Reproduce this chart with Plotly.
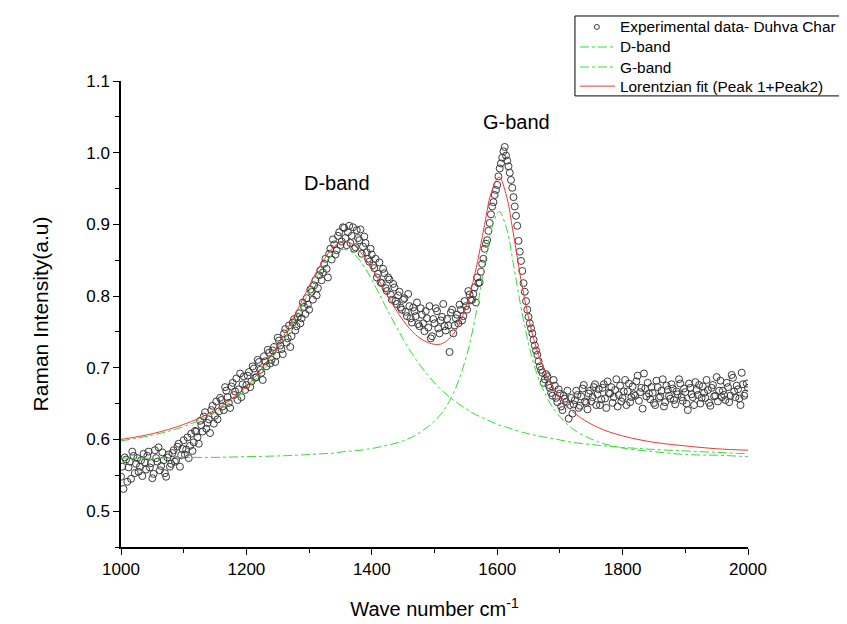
import plotly.graph_objects as go

# Experimental Raman spectrum, two interleaved passes
wavenumber_a = list(range(1000, 2001, 4))
intensity_a = [
    0.548, 0.531, 0.572, 0.561, 0.545, 0.577, 0.566, 0.555, 0.571, 0.580,
    0.558, 0.583, 0.567, 0.552, 0.574, 0.589, 0.563, 0.571, 0.548, 0.579,
    0.566, 0.585, 0.571, 0.594, 0.578, 0.599, 0.586, 0.574, 0.608, 0.596,
    0.611, 0.594, 0.620, 0.632, 0.615, 0.628, 0.641, 0.622, 0.653, 0.639,
    0.655, 0.641, 0.668, 0.651, 0.674, 0.662, 0.685, 0.670, 0.659, 0.688,
    0.676, 0.694, 0.681, 0.699, 0.687, 0.708, 0.693, 0.716, 0.702, 0.721,
    0.711, 0.729, 0.717, 0.738, 0.726, 0.748, 0.735, 0.759, 0.744, 0.768,
    0.758, 0.776, 0.769, 0.785, 0.797, 0.781, 0.806, 0.815, 0.801, 0.829,
    0.822, 0.845, 0.838, 0.859, 0.851, 0.872, 0.864, 0.889, 0.876, 0.895,
    0.871, 0.898, 0.884, 0.866, 0.892, 0.878, 0.859, 0.883, 0.861, 0.848,
    0.858, 0.839, 0.826, 0.847, 0.818, 0.832, 0.807, 0.823, 0.795, 0.812,
    0.789, 0.806, 0.781, 0.797, 0.772, 0.786, 0.763, 0.779, 0.791, 0.758,
    0.774, 0.751, 0.769, 0.786, 0.744, 0.762, 0.779, 0.748, 0.771, 0.758,
    0.768, 0.722, 0.781, 0.759, 0.774, 0.788, 0.766, 0.793, 0.781, 0.802,
    0.795, 0.812, 0.826, 0.819, 0.845, 0.866, 0.878, 0.902, 0.925, 0.941,
    0.955, 0.978, 0.993, 1.008, 0.989, 0.972, 0.951, 0.925, 0.898, 0.862,
    0.835, 0.806, 0.781, 0.762, 0.748, 0.731, 0.718, 0.702, 0.693, 0.684,
    0.688, 0.672, 0.661, 0.675, 0.652, 0.664, 0.641, 0.657, 0.668, 0.648,
    0.636, 0.655, 0.662, 0.647, 0.671, 0.653, 0.642, 0.668, 0.659, 0.677,
    0.663, 0.648, 0.672, 0.657, 0.681, 0.664, 0.651, 0.669, 0.646, 0.675,
    0.658, 0.683, 0.667, 0.652, 0.674, 0.661, 0.689, 0.666, 0.643, 0.671,
    0.679, 0.656, 0.665, 0.648, 0.673, 0.660, 0.684, 0.652, 0.669, 0.657,
    0.671, 0.649, 0.663, 0.678, 0.654, 0.666, 0.641, 0.672, 0.659, 0.680,
    0.662, 0.650, 0.674, 0.658, 0.669, 0.647, 0.676, 0.661, 0.653, 0.682,
    0.668, 0.655, 0.673, 0.661, 0.686, 0.659, 0.670, 0.648, 0.677, 0.664,
    0.672,
]
wavenumber_b = list(range(1002, 2000, 4))
intensity_b = [
    0.562, 0.575, 0.541, 0.569, 0.583, 0.553, 0.574, 0.562, 0.549, 0.568,
    0.577, 0.561, 0.546, 0.585, 0.569, 0.557, 0.582, 0.553, 0.575, 0.562,
    0.581, 0.569, 0.590, 0.562, 0.587, 0.579, 0.603, 0.591, 0.584, 0.612,
    0.603, 0.626, 0.611, 0.638, 0.623, 0.609, 0.647, 0.633, 0.628, 0.658,
    0.646, 0.673, 0.659, 0.644, 0.679, 0.667, 0.655, 0.692, 0.677, 0.669,
    0.689, 0.673, 0.702, 0.686, 0.711, 0.697, 0.683, 0.709, 0.725, 0.706,
    0.724, 0.708, 0.742, 0.731, 0.719, 0.754, 0.741, 0.729, 0.763, 0.752,
    0.771, 0.762, 0.791, 0.775, 0.788, 0.809, 0.795, 0.822, 0.811, 0.836,
    0.833, 0.852, 0.826, 0.866, 0.879, 0.858, 0.884, 0.871, 0.896, 0.881,
    0.889, 0.874, 0.896, 0.868, 0.881, 0.893, 0.869, 0.874, 0.852, 0.866,
    0.843, 0.852, 0.831, 0.819, 0.838, 0.811, 0.826, 0.802, 0.817, 0.793,
    0.801, 0.784, 0.795, 0.778, 0.803, 0.769, 0.784, 0.772, 0.761, 0.783,
    0.762, 0.779, 0.756, 0.741, 0.768, 0.783, 0.755, 0.766, 0.789, 0.752,
    0.759, 0.777, 0.748, 0.769, 0.762, 0.781, 0.772, 0.786, 0.807, 0.794,
    0.803, 0.791, 0.818, 0.834, 0.852, 0.873, 0.891, 0.914, 0.931, 0.948,
    0.967, 0.985, 1.002, 0.996, 0.981, 0.962, 0.938, 0.912, 0.877, 0.849,
    0.818, 0.793, 0.771, 0.755, 0.739, 0.724, 0.709, 0.697, 0.679, 0.691,
    0.676, 0.665, 0.683, 0.658, 0.670, 0.646, 0.661, 0.652, 0.629, 0.658,
    0.649, 0.668, 0.644, 0.660, 0.676, 0.651, 0.664, 0.653, 0.673, 0.648,
    0.670, 0.656, 0.677, 0.644, 0.665, 0.673, 0.659, 0.684, 0.662, 0.653,
    0.667, 0.648, 0.678, 0.659, 0.663, 0.681, 0.654, 0.672, 0.692, 0.660,
    0.664, 0.673, 0.651, 0.682, 0.658, 0.668, 0.646, 0.675, 0.661, 0.677,
    0.655, 0.667, 0.684, 0.659, 0.671, 0.650, 0.678, 0.663, 0.648, 0.669,
    0.676, 0.658, 0.665, 0.683, 0.651, 0.672, 0.660, 0.687, 0.668, 0.659,
    0.662, 0.679, 0.652, 0.690, 0.667, 0.675, 0.657, 0.693, 0.661, 0.678,
]

# Fitted curves
fit_x = [1000, 1050, 1100, 1150, 1200, 1250, 1280, 1300, 1320, 1340,
         1355, 1370, 1390, 1410, 1430, 1450, 1470, 1490, 1510, 1530,
         1550, 1565, 1580, 1590, 1603, 1615, 1625, 1640, 1655, 1670,
         1690, 1720, 1760, 1800, 1850, 1900, 1950, 2000]
d_band = [0.598, 0.606, 0.618, 0.638, 0.670, 0.725, 0.772, 0.806, 0.838, 0.860,
          0.865, 0.860, 0.838, 0.806, 0.772, 0.740, 0.712, 0.689, 0.670, 0.655,
          0.643, 0.635, 0.629, 0.625, 0.620, 0.617, 0.614, 0.610, 0.607, 0.604,
          0.601, 0.596, 0.592, 0.589, 0.586, 0.584, 0.582, 0.580]
g_band = [0.574, 0.574, 0.575, 0.575, 0.576, 0.577, 0.578, 0.579, 0.580, 0.581,
          0.583, 0.584, 0.586, 0.589, 0.593, 0.598, 0.606, 0.618, 0.635, 0.664,
          0.713, 0.770, 0.844, 0.890, 0.918, 0.894, 0.849, 0.775, 0.716, 0.676,
          0.643, 0.615, 0.597, 0.588, 0.583, 0.579, 0.578, 0.576]
lorentz_fit = [0.600, 0.608, 0.621, 0.641, 0.674, 0.731, 0.778, 0.814, 0.846, 0.869,
               0.876, 0.872, 0.852, 0.824, 0.793, 0.766, 0.746, 0.735, 0.733, 0.747,
               0.784, 0.833, 0.900, 0.943, 0.966, 0.939, 0.891, 0.813, 0.751, 0.708,
               0.671, 0.639, 0.617, 0.605, 0.596, 0.591, 0.587, 0.585]

legend_names = ['Experimental data- Duhva Char', 'D-band', 'G-band',
                'Lorentzian fit (Peak 1+Peak2)']

font = 'Liberation Sans, Arial, sans-serif'
green = '#33dd33'
red = '#ff3333'
marker_col = '#3a3a3a'

fig = go.Figure()
fig.add_trace(go.Scatter(x=wavenumber_a + wavenumber_b,
                         y=intensity_a + intensity_b, mode='markers',
                         name=legend_names[0],
                         marker=dict(symbol='circle-open', size=7,
                                     color=marker_col, line=dict(width=1))))
fig.add_trace(go.Scatter(x=fit_x, y=d_band, mode='lines', name=legend_names[1],
                         line=dict(color=green, width=1, dash='dashdot',
                                   shape='spline')))
fig.add_trace(go.Scatter(x=fit_x, y=g_band, mode='lines', name=legend_names[2],
                         line=dict(color=green, width=1, dash='dashdot',
                                   shape='spline')))
fig.add_trace(go.Scatter(x=fit_x, y=lorentz_fit, mode='lines',
                         name=legend_names[3],
                         line=dict(color=red, width=1, shape='spline')))

fig.add_annotation(x=1344, y=0.958, text='D-band', showarrow=False,
                   font=dict(size=20, color='black', family=font))
fig.add_annotation(x=1630, y=1.043, text='G-band', showarrow=False,
                   font=dict(size=20, color='black', family=font))

# Origin-style legend box (tighter rows than plotly's own legend)
row_y = [1.116, 1.073, 1.030, 0.989]
fig.add_shape(type='rect', xref='paper', yref='paper',
              x0=0.724, x1=1.25, y0=0.968, y1=1.1395,
              line=dict(color='black', width=1), fillcolor='white', layer='above')
fig.add_shape(type='circle', xref='paper', yref='paper',
              xsizemode='pixel', ysizemode='pixel',
              xanchor=0.759, yanchor=row_y[0], x0=-2.5, x1=2.5, y0=-2.5, y1=2.5,
              line=dict(color=marker_col, width=1), layer='above')
for yy, col, dash in [(row_y[1], green, 'dashdot'), (row_y[2], green, 'dashdot'),
                      (row_y[3], red, 'solid')]:
    fig.add_shape(type='line', xref='paper', yref='paper',
                  x0=0.732, x1=0.788, y0=yy, y1=yy,
                  line=dict(color=col, width=1, dash=dash), layer='above')
for yy, name in zip(row_y, legend_names):
    fig.add_annotation(xref='paper', yref='paper', x=0.7927, y=yy, text=name,
                       xanchor='left', yanchor='middle', showarrow=False,
                       font=dict(size=15.4, color='black', family=font))

# page body adds an 8px offset, so the figure is shrunk by 8px to compensate
fig.update_layout(
    width=839, height=616,
    margin=dict(l=113, r=99, t=73, b=77, autoexpand=False),
    plot_bgcolor='white', paper_bgcolor='white',
    font=dict(family=font, color='black'),
    showlegend=False,
    xaxis=dict(range=[1000, 2000], dtick=200, showgrid=False, zeroline=False,
               showline=True, linecolor='black', linewidth=1.5,
               ticks='outside', ticklen=6, tickwidth=1.2, tickcolor='black',
               tickfont=dict(size=17),
               minor=dict(dtick=100, ticks='outside', ticklen=4,
                          tickcolor='black', tickwidth=1.2),
               title=dict(text='Wave number cm<sup>-1</sup>',
                          font=dict(size=20), standoff=24)),
    yaxis=dict(range=[0.45, 1.1], dtick=0.1, tickformat='.1f',
               showgrid=False, zeroline=False,
               showline=True, linecolor='black', linewidth=1.5,
               ticks='outside', ticklen=6, tickwidth=1.2, tickcolor='black',
               tickfont=dict(size=17),
               minor=dict(dtick=0.05, ticks='outside', ticklen=4,
                          tickcolor='black', tickwidth=1.2),
               title=dict(text='Raman Intensity(a.u)',
                          font=dict(size=21), standoff=32)),
)

fig.write_html("out.html")
